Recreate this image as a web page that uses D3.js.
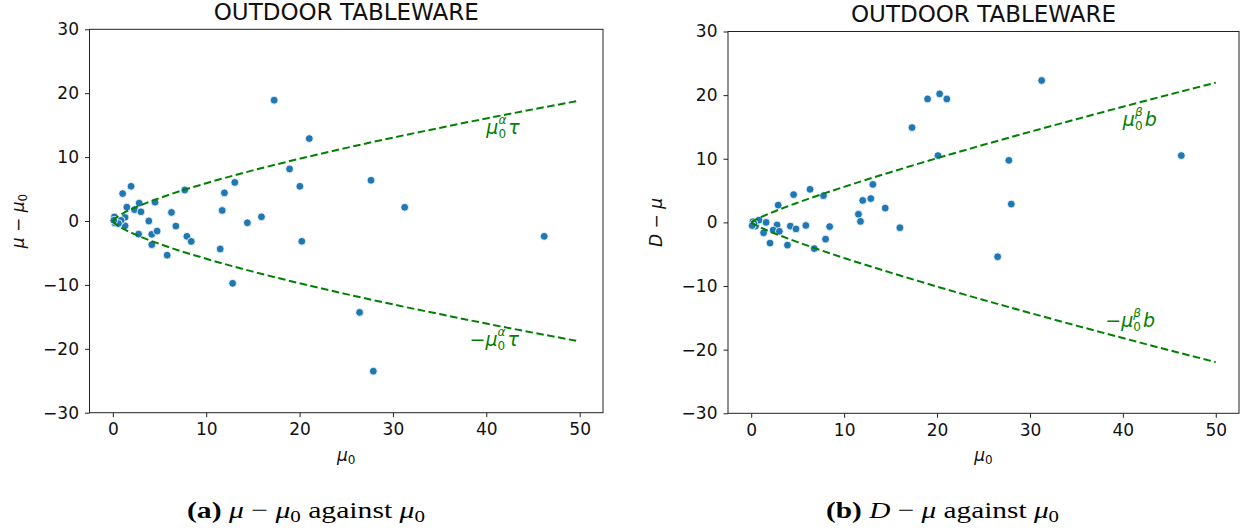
<!DOCTYPE html>
<html>
<head>
<meta charset="utf-8">
<script src="https://cdn.jsdelivr.net/npm/d3@7"></script>
<style>
  html, body { margin: 0; padding: 0; background: #fff; }
  svg { display: block; }
</style>
</head>
<body>
<svg id="chart" width="1247" height="531"></svg>
<script>
// ---------------- data ----------------
const chartTitle = "OUTDOOR TABLEWARE";
const xTickValues = [0, 10, 20, 30, 40, 50];
const yTickValues = [-30, -20, -10, 0, 10, 20, 30];

// panel (a): mu0 vs mu - mu0
const leftMu0 = [17.28, 21.04, 18.93, 20.03, 27.65, 1.05, 1.95, 7.7, 11.95, 13.06,
  1.5, 2.82, 4.52, 2.33, 3.01, 6.28, 11.71, 15.92, 31.26, 3.85,
  1.31, 14.41, 6.75, 1.31, 2.76, 4.17, 4.74, 7.93, 8.4, 4.17,
  5.82, 11.5, 20.24, 46.2, 12.83, 26.43, 27.9,
  0.16, 0.34, 0.88, 0.2, 0.6, 0.1];
const leftDiff = [18.9, 12.9, 8.14, 5.43, 6.37, 4.29, 5.43, 4.85, 4.4, 6.03,
  2.17, 2.8, 2.95, 1.78, 1.44, 1.34, 1.65, 0.66, 2.14, 0,
  0.57, -0.28, -0.8, -0.75, -2.05, -2.08, -1.58, -2.4, -3.2, -3.7,
  -5.35, -4.38, -3.18, -2.4, -9.75, -14.3, -23.5,
  0.63, 0.1, 0.1, -0.3, -0.4, 0.1];

// panel (b): mu0 vs D - mu
const rightMu0 = [31.26, 18.98, 20.28, 21.05, 17.31, 20.1, 27.73, 46.29, 4.56, 6.33,
  7.78, 13.09, 12.0, 12.87, 2.9, 14.42, 27.99, 11.54, 11.76, 1.6,
  2.78, 4.21, 4.82, 5.88, 8.44, 16.0, 1.33, 2.36, 3.03, 2.02,
  3.9, 8.0, 6.78, 26.52,
  0.18, 0.47, 0.83, 0.3, 0.1];
const rightDiff = [22.3, 19.4, 20.2, 19.4, 14.9, 10.5, 9.75, 10.5, 4.37, 5.2,
  4.2, 5.97, 3.45, 3.74, 2.72, 2.25, 2.88, 1.28, 0.16, 0,
  -0.4, -0.58, -1.03, -0.48, -0.66, -0.84, -1.63, -1.21, -1.4, -3.25,
  -3.57, -2.63, -4.12, -5.4,
  0.1, -0.58, 0.36, -0.2, -0.5];

// bound curves
const boundX = [0, 0.25, 0.5, 1, 2.5, 5, 10, 15, 20, 25, 30, 35, 40, 45, 50];
const leftBound = [0, 0.42, 0.68, 1.13, 2.18, 3.59, 5.91, 7.92, 9.74, 11.44, 13.05, 14.57, 16.05, 17.47, 18.84];
const rightBound = [0, 0.24, 0.44, 0.79, 1.72, 3.10, 5.59, 7.89, 10.09, 12.19, 14.23, 16.22, 18.17, 20.09, 21.96];

// ---------------- drawing ----------------
const svg = d3.select("#chart");
const SANS = "DejaVu Sans, Verdana, sans-serif";
const SERIF = "'Liberation Serif', 'Times New Roman', serif";
const GREEN = "#008000";
const BLUE = "#1f77b4";

function addParts(textSel, parts) {
  parts.forEach(p => {
    const ts = textSel.append("tspan").text(p.t);
    if (p.it) ts.attr("font-style", "italic");
    if (p.b) ts.attr("font-weight", "bold");
    if (p.fs) ts.attr("font-size", p.fs);
    if (p.dx != null) ts.attr("dx", p.dx);
    if (p.dy != null) ts.attr("dy", p.dy);
  });
  return textSel;
}

function panel(cfg) {
  const g = svg.append("g");
  const x = d3.scaleLinear().domain([-2.5, 52.5]).range([cfg.left, cfg.right]);
  const y = d3.scaleLinear().domain([-30, 30]).range([cfg.bottom, cfg.top]);

  // axes
  const xAxis = d3.axisBottom(x).tickValues(xTickValues).tickSize(4.5).tickPadding(6).tickFormat(d3.format("d"));
  const yAxis = d3.axisLeft(y).tickValues(yTickValues).tickSize(4.5).tickPadding(6)
    .tickFormat(d => d < 0 ? "\u2212" + Math.abs(d) : String(d));
  const gx = g.append("g").attr("transform", `translate(0,${cfg.bottom})`).call(xAxis);
  const gy = g.append("g").attr("transform", `translate(${cfg.left},0)`).call(yAxis);
  [gx, gy].forEach(a => {
    a.select(".domain").remove();
    a.selectAll(".tick line").attr("stroke", "#222").attr("stroke-width", 1);
    a.selectAll(".tick text").attr("font-family", SANS).attr("font-size", 17).attr("fill", "#111");
  });

  // points
  g.append("g").selectAll("circle")
    .data(cfg.xs.map((v, i) => [v, cfg.ys[i]]))
    .join("circle")
    .attr("cx", d => x(d[0])).attr("cy", d => y(d[1]))
    .attr("r", 3.9)
    .attr("fill", BLUE).attr("stroke", "#fff").attr("stroke-width", 0.8);

  // bound curves
  const line = d3.line().x(d => x(d[0])).y(d => y(d[1])).curve(d3.curveMonotoneX);
  const up = boundX.map((v, i) => [v, cfg.bound[i]]);
  const lo = boundX.map((v, i) => [v, -cfg.bound[i]]);
  [up, lo].forEach(pts => {
    g.append("path").attr("d", line(pts)).attr("fill", "none")
      .attr("stroke", GREEN).attr("stroke-width", 2).attr("stroke-dasharray", "7.5,3.5");
  });

  // frame
  g.append("rect").attr("x", cfg.left).attr("y", cfg.top)
    .attr("width", cfg.right - cfg.left).attr("height", cfg.bottom - cfg.top)
    .attr("fill", "none").attr("stroke", "#222").attr("stroke-width", 1);

  // title
  g.append("text").attr("x", (cfg.left + cfg.right) / 2).attr("y", cfg.top - 9.3)
    .attr("text-anchor", "middle").attr("font-family", SANS).attr("font-size", 23)
    .attr("fill", "#111").text(chartTitle);

  // x label
  addParts(g.append("text").attr("x", (cfg.left + cfg.right) / 2).attr("y", 461)
    .attr("text-anchor", "middle").attr("font-family", SANS).attr("font-size", 17).attr("fill", "#111"),
    [{t: "\u03bc", it: true}, {t: "0", fs: 12, dy: 3}]);

  // y label
  addParts(g.append("text")
    .attr("transform", `translate(${cfg.ylabX},${(cfg.top + cfg.bottom) / 2}) rotate(-90)`)
    .attr("text-anchor", "middle").attr("font-family", SANS).attr("font-size", 17).attr("fill", "#111"),
    cfg.ylab);

  // curve annotations: mu_0^sym coef, sub- and superscript stacked
  const ann = (xv, yv, neg) => {
    const t = g.append("text").attr("x", x(xv)).attr("y", y(yv))
      .attr("font-family", SANS).attr("font-size", 19).attr("fill", GREEN);
    const parts = [];
    if (neg) parts.push({t: "\u2212"});
    parts.push({t: "\u03bc", it: true});
    parts.push({t: "0", fs: 12, dy: 4});
    parts.push({t: cfg.sym, it: true, fs: 12, dx: -7.6, dy: -14});
    parts.push({t: cfg.coef, it: true, dx: 2, dy: 10});
    addParts(t, parts);
  };
  ann(cfg.annUp[0], cfg.annUp[1], false);
  ann(cfg.annLo[0], cfg.annLo[1], true);

  // caption
  addParts(svg.append("text").attr("x", cfg.capX).attr("y", 518)
    .attr("font-family", SERIF).attr("font-size", 24).attr("fill", "#000")
    .attr("textLength", cfg.capW).attr("lengthAdjust", "spacingAndGlyphs"),
    cfg.caption);
}

panel({
  left: 89.5, right: 603, top: 29.3, bottom: 412.7,
  xs: leftMu0, ys: leftDiff, bound: leftBound,
  ylabX: 24,
  ylab: [{t: "\u03bc", it: true}, {t: " \u2212 "}, {t: "\u03bc", it: true}, {t: "0", fs: 12, dy: 3}],
  sym: "\u03b1", coef: "\u03c4",
  annUp: [40.0, 13.6], annLo: [38.2, -19.6],
  capX: 187, capW: 238,
  caption: [{t: "(a)", b: true}, {t: " "}, {t: "\u03bc", it: true}, {t: " \u2212 "}, {t: "\u03bc", it: true},
    {t: "0", fs: 17, dy: 4}, {t: " against ", dy: -4}, {t: "\u03bc", it: true}, {t: "0", fs: 17, dy: 4}]
});

panel({
  left: 728, right: 1239, top: 31.5, bottom: 413.3,
  xs: rightMu0, ys: rightDiff, bound: rightBound,
  ylabX: 662,
  ylab: [{t: "D", it: true}, {t: " \u2212 "}, {t: "\u03bc", it: true}],
  sym: "\u03b2", coef: "b",
  annUp: [40.0, 15.2], annLo: [38.1, -16.5],
  capX: 826, capW: 233,
  caption: [{t: "(b)", b: true}, {t: " "}, {t: "D", it: true}, {t: " \u2212 "}, {t: "\u03bc", it: true},
    {t: " against "}, {t: "\u03bc", it: true}, {t: "0", fs: 17, dy: 4}]
});
</script>
</body>
</html>
